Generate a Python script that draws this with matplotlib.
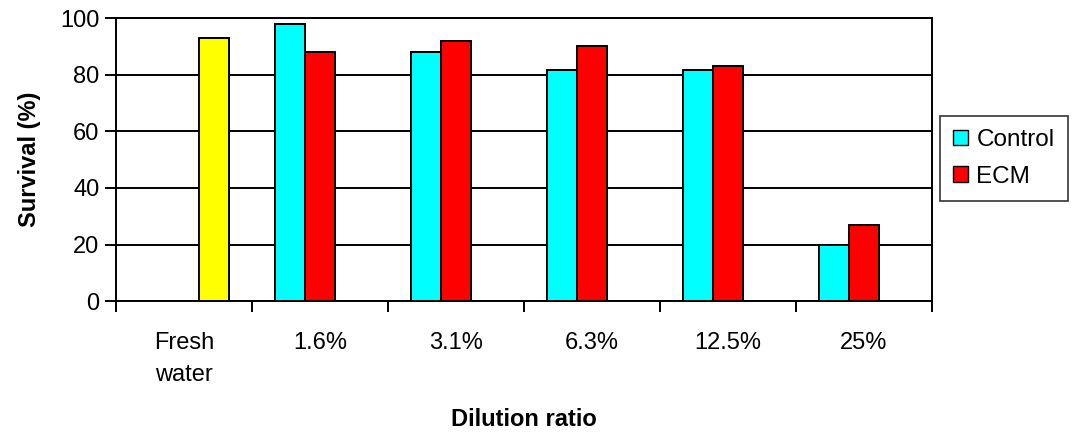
import numpy as np
import matplotlib.pyplot as plt
from matplotlib.patches import Patch

plt.rcParams['font.family'] = ['Liberation Sans Narrow', 'Liberation Sans', 'DejaVu Sans']

categories = ['Fresh\nwater', '1.6%', '3.1%', '6.3%', '12.5%', '25%']
fresh_water = [93]
control = [98, 88, 81.5, 81.5, 20]
ecm = [88, 92, 90, 83, 27]

fig = plt.figure(figsize=(10.81, 4.32), dpi=100)
ax = fig.add_axes([0.1073, 0.303, 0.7548, 0.655])

w = 0.22
x = np.arange(len(categories))
edge = dict(edgecolor='black', linewidth=1.4)

ax.bar(x[1:] - w, control, w, color='#00ffff', zorder=3, **edge)
ax.bar(x[1:], ecm, w, color='#ff0000', zorder=3, **edge)
ax.bar(x[:1] + w, fresh_water, w, color='#ffff00', zorder=3, **edge)

ax.set_xlim(-0.5, len(categories) - 0.5)
ax.set_ylim(0, 100)
ax.set_yticks(range(0, 101, 20))
ax.yaxis.grid(True, color='black', linewidth=1.4, zorder=0)

# boundaries get the tick marks, centres get the labels
ax.set_xticks(np.arange(-0.5, len(categories)), labels=[''] * (len(categories) + 1))
ax.set_xticks(x, labels=categories, minor=True)
ax.tick_params(axis='x', which='major', length=8, width=1.4, direction='out')
ax.tick_params(axis='x', which='minor', length=0, pad=22, labelsize=17)
ax.tick_params(axis='y', length=8, width=1.4, direction='out', labelsize=17, pad=4)
for lbl in ax.get_xticklabels(minor=True):
    lbl.set_linespacing(1.6)

for s in ax.spines.values():
    s.set_linewidth(1.4)
    s.set_color('black')

ax.set_ylabel('Survival (%)', fontsize=17, fontweight='bold', labelpad=14)
ax.set_xlabel('Dilution ratio', fontsize=17, fontweight='bold', labelpad=16)

handles = [Patch(facecolor='#00ffff', edgecolor='black', label='Control'),
           Patch(facecolor='#ff0000', edgecolor='black', label='ECM')]
leg = fig.legend(handles=handles, loc='upper left', bbox_to_anchor=(0.8695, 0.732),
                 fontsize=17.5, frameon=True, fancybox=False, handlelength=0.6,
                 handleheight=0.6, handletextpad=0.35, borderpad=0.55,
                 labelspacing=0.6, borderaxespad=0)
leg.get_frame().set_edgecolor('black')
leg.get_frame().set_linewidth(1.2)

fig.savefig('out.png', dpi=100)
